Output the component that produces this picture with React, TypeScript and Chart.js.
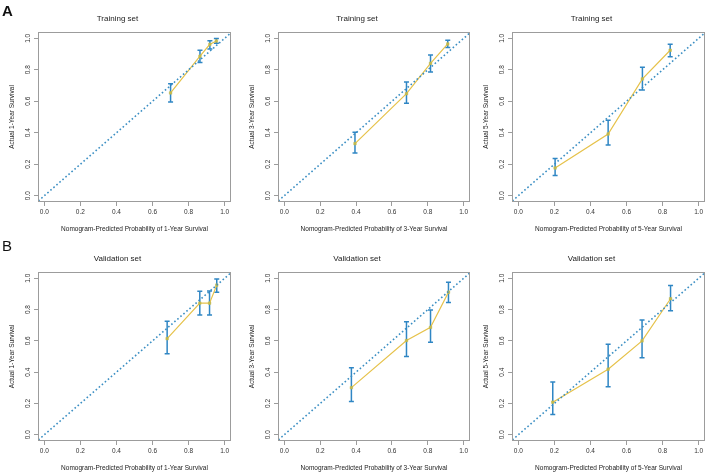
import React, { useEffect, useRef } from "react";
import { Chart, registerables } from "chart.js";

Chart.register(...registerables);

// ---------------- data ----------------
const tickValues = [0, 0.2, 0.4, 0.6, 0.8, 1.0];
const referenceLine = [-0.1, 1.1];

const trainPred1y = [0.700, 0.863, 0.918, 0.954];
const trainObs1y = [0.653, 0.886, 0.962, 0.983];
const trainLow1y = [0.595, 0.847, 0.932, 0.968];
const trainUp1y = [0.712, 0.924, 0.985, 0.998];

const trainPred3y = [0.394, 0.681, 0.815, 0.911];
const trainObs3y = [0.331, 0.648, 0.841, 0.964];
const trainLow3y = [0.271, 0.587, 0.786, 0.941];
const trainUp3y = [0.403, 0.722, 0.894, 0.987];

const trainPred5y = [0.204, 0.498, 0.688, 0.842];
const trainObs5y = [0.176, 0.392, 0.742, 0.924];
const trainLow5y = [0.129, 0.322, 0.672, 0.883];
const trainUp5y = [0.237, 0.479, 0.816, 0.962];

const validPred1y = [0.681, 0.862, 0.916, 0.956];
const validObs1y = [0.614, 0.841, 0.841, 0.956];
const validLow1y = [0.517, 0.765, 0.765, 0.911];
const validUp1y = [0.725, 0.917, 0.919, 0.996];

const validPred3y = [0.374, 0.681, 0.815, 0.915];
const validObs3y = [0.301, 0.602, 0.686, 0.911];
const validLow3y = [0.212, 0.500, 0.591, 0.845];
const validUp3y = [0.428, 0.722, 0.797, 0.975];

const validPred5y = [0.191, 0.498, 0.686, 0.844];
const validObs5y = [0.208, 0.419, 0.600, 0.869];
const validLow5y = [0.129, 0.307, 0.492, 0.792];
const validUp5y = [0.337, 0.578, 0.733, 0.953];

const titleTrain = "Training set";
const titleValid = "Validation set";
const xLabel = (y: number) => `Nomogram-Predicted Probability of ${y}-Year Survival`;
const yLabel = (y: number) => `Actual ${y}-Year Survival`;

// ---------------- styles / layout ----------------
const FONT = "'Liberation Sans', Arial, Helvetica, sans-serif";
const YELLOW = "#e6c24a";
const POINT = "#c2b94c";
const BAR = "#2f86c4";
const DIAG = "#3a8ec3";
const FRAME = "#9c9c9c";
const Y_W = 34;
const X_H = 34;
const T_H = 26;

type Panel = {
  title: string;
  years: number;
  pred: number[];
  obs: number[];
  low: number[];
  up: number[];
  box: { l: number; t: number; w: number; h: number };
  titleCx: number;
};

const panels: Panel[] = [
  { title: titleTrain, years: 1, pred: trainPred1y, obs: trainObs1y, low: trainLow1y, up: trainUp1y, box: { l: 38, t: 32, w: 193, h: 170 }, titleCx: 129 },
  { title: titleTrain, years: 3, pred: trainPred3y, obs: trainObs3y, low: trainLow3y, up: trainUp3y, box: { l: 278, t: 32, w: 192, h: 170 }, titleCx: 372 },
  { title: titleTrain, years: 5, pred: trainPred5y, obs: trainObs5y, low: trainLow5y, up: trainUp5y, box: { l: 512, t: 32, w: 193, h: 170 }, titleCx: 610 },
  { title: titleValid, years: 1, pred: validPred1y, obs: validObs1y, low: validLow1y, up: validUp1y, box: { l: 38, t: 272, w: 193, h: 169 }, titleCx: 129 },
  { title: titleValid, years: 3, pred: validPred3y, obs: validObs3y, low: validLow3y, up: validUp3y, box: { l: 278, t: 272, w: 192, h: 169 }, titleCx: 372 },
  { title: titleValid, years: 5, pred: validPred5y, obs: validObs5y, low: validLow5y, up: validUp5y, box: { l: 512, t: 272, w: 193, h: 169 }, titleCx: 608 },
];

function CalibrationPanel({ p }: { p: Panel }) {
  const ref = useRef<HTMLCanvasElement>(null);
  const left = p.box.l - Y_W;
  const top = p.box.t - T_H;
  const width = 2 * p.titleCx - left;
  const height = T_H + p.box.h + X_H;
  const padRight = width - Y_W - p.box.w;

  useEffect(() => {
    if (!ref.current) return;
    const errorBars = {
      id: "errorBars",
      beforeDatasetDraw(chart: any, args: any) {
        if (args.index !== 1) return;
        const { ctx, scales } = chart;
        const xs = scales.x;
        const ys = scales.y;
        ctx.save();
        ctx.strokeStyle = BAR;
        ctx.lineWidth = 1.5;
        for (let i = 0; i < p.pred.length; i++) {
          const px = xs.getPixelForValue(p.pred[i]);
          const y1 = ys.getPixelForValue(p.low[i]);
          const y2 = ys.getPixelForValue(p.up[i]);
          ctx.beginPath();
          ctx.moveTo(px, y1);
          ctx.lineTo(px, y2);
          ctx.moveTo(px - 2.5, y1);
          ctx.lineTo(px + 2.5, y1);
          ctx.moveTo(px - 2.5, y2);
          ctx.lineTo(px + 2.5, y2);
          ctx.stroke();
        }
        ctx.restore();
      },
    };
    const frame = {
      id: "frame",
      afterDraw(chart: any) {
        const { ctx, chartArea: a } = chart;
        ctx.save();
        ctx.strokeStyle = FRAME;
        ctx.lineWidth = 1;
        ctx.strokeRect(a.left + 0.5, a.top + 0.5, a.right - a.left - 1, a.bottom - a.top - 1);
        ctx.restore();
      },
    };
    const tickFont = { family: FONT, size: 6.5 };
    const chart = new Chart(ref.current, {
      type: "line",
      data: {
        datasets: [
          {
            data: referenceLine.map((v) => ({ x: v, y: v })),
            borderColor: DIAG,
            borderWidth: 1.6,
            borderDash: [1.6, 2.4],
            pointRadius: 0,
            fill: false,
          },
          {
            data: p.pred.map((x, i) => ({ x, y: p.obs[i] })),
            borderColor: YELLOW,
            borderWidth: 1.2,
            pointRadius: 1.8,
            pointStyle: "rect",
            pointBackgroundColor: POINT,
            pointBorderColor: POINT,
            pointBorderWidth: 0.5,
            fill: false,
          },
        ],
      } as any,
      options: {
        responsive: false,
        animation: false,
        devicePixelRatio: 1,
        layout: { padding: { left: 0, top: 0, right: padRight, bottom: 0 } },
        plugins: {
          legend: { display: false },
          tooltip: { enabled: false },
          title: {
            display: true,
            text: p.title,
            color: "#222",
            font: { family: FONT, size: 8, weight: "normal", lineHeight: 1.2 },
            padding: { top: 8.2, bottom: 8.2 },
          },
        },
        scales: {
          x: {
            type: "linear",
            min: -0.035,
            max: 1.035,
            afterBuildTicks: (s: any) => {
              s.ticks = tickValues.map((v) => ({ value: v }));
            },
            afterFit: (s: any) => {
              s.height = X_H;
            },
            border: { display: false },
            grid: { drawOnChartArea: false, drawTicks: true, tickLength: 4, color: FRAME },
            ticks: {
              font: tickFont,
              color: "#333",
              padding: 2,
              maxRotation: 0,
              autoSkip: false,
              callback: (v: any) => Number(v).toFixed(1),
            },
            title: {
              display: true,
              text: xLabel(p.years),
              color: "#222",
              font: { family: FONT, size: 6.5, lineHeight: 1.2 },
              padding: { top: 0, bottom: 3 },
            },
          },
          y: {
            type: "linear",
            min: -0.04,
            max: 1.04,
            afterBuildTicks: (s: any) => {
              s.ticks = tickValues.map((v) => ({ value: v }));
            },
            afterFit: (s: any) => {
              s.width = Y_W;
            },
            border: { display: false },
            grid: { drawOnChartArea: false, drawTicks: true, tickLength: 4, color: FRAME },
            ticks: {
              font: tickFont,
              color: "#333",
              padding: 1.5,
              minRotation: 90,
              maxRotation: 90,
              crossAlign: "center",
              autoSkip: false,
              callback: (v: any) => Number(v).toFixed(1),
            },
            title: {
              display: true,
              text: yLabel(p.years),
              color: "#222",
              font: { family: FONT, size: 6.5, lineHeight: 1.2 },
              padding: { top: 4, bottom: 0 },
            },
          },
        },
      } as any,
      plugins: [errorBars, frame],
    });
    return () => chart.destroy();
  }, []);

  return (
    <canvas
      ref={ref}
      width={width}
      height={height}
      style={{ position: "absolute", left, top, width, height }}
    />
  );
}

export default function App() {
  return (
    <div
      style={{
        position: "fixed",
        left: 0,
        top: 0,
        width: 710,
        height: 476,
        overflow: "hidden",
        background: "#fff",
      }}
    >
      {panels.map((p, i) => (
        <CalibrationPanel key={i} p={p} />
      ))}
      <div style={{ position: "absolute", left: 2, top: 3, font: `bold 15px ${FONT}`, lineHeight: 1, color: "#111" }}>A</div>
      <div style={{ position: "absolute", left: 2, top: 238, font: `15px ${FONT}`, lineHeight: 1, color: "#111" }}>B</div>
    </div>
  );
}
